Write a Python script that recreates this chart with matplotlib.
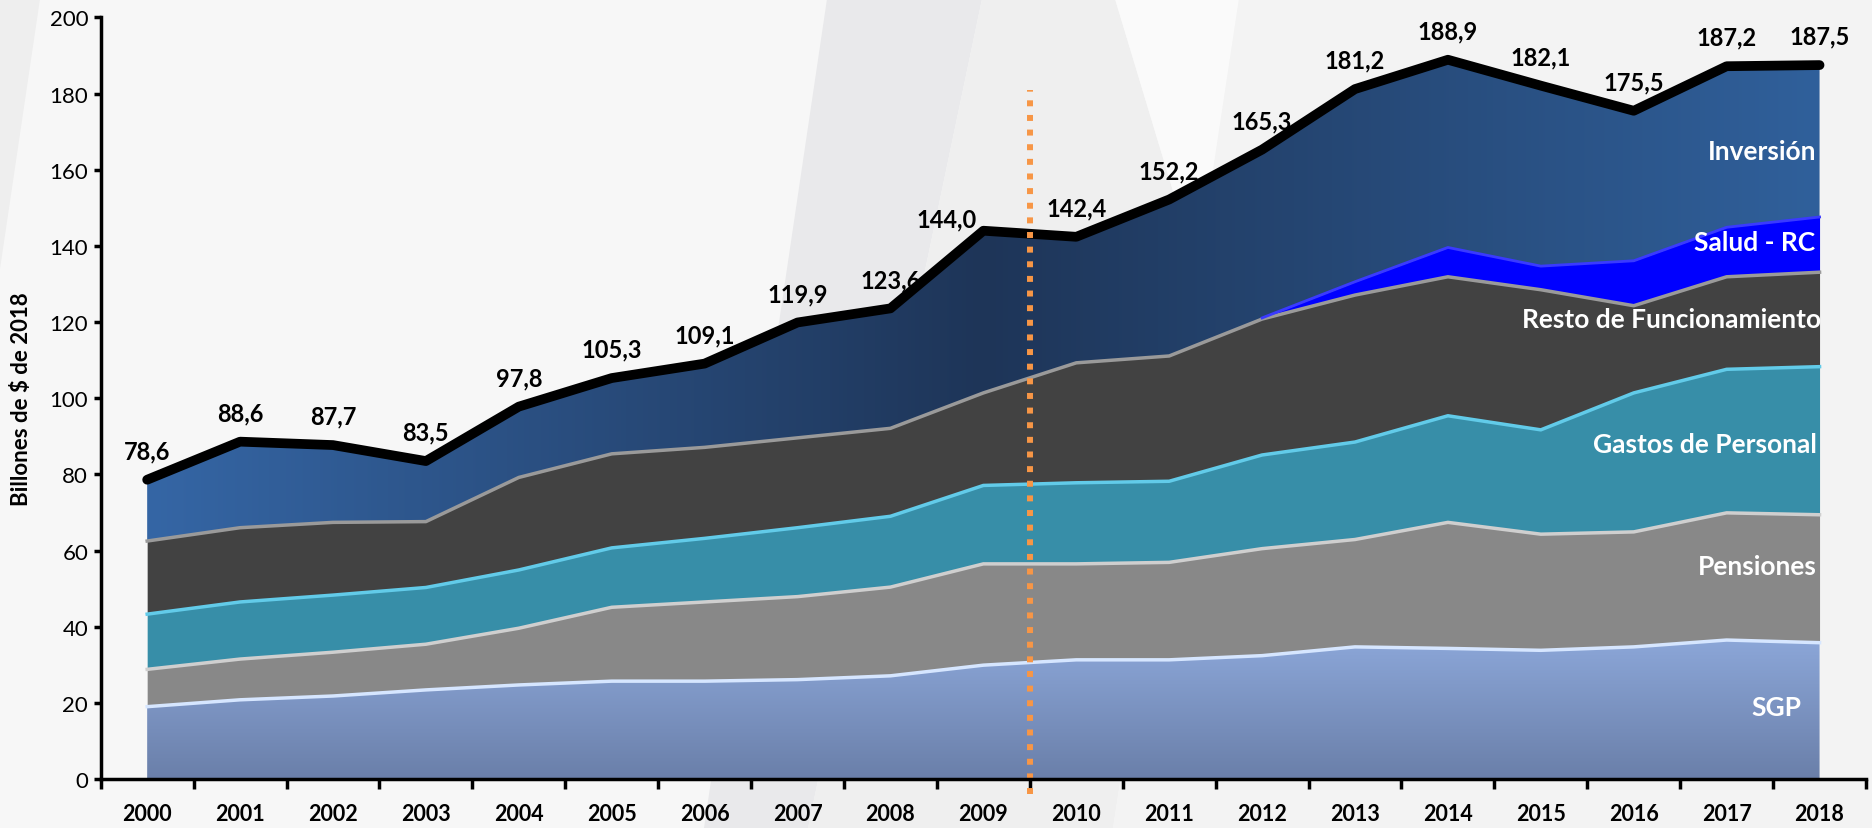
import numpy as np
import matplotlib
matplotlib.use("Agg")
import matplotlib.pyplot as plt
from matplotlib.colors import LinearSegmentedColormap
from matplotlib.patches import Polygon

plt.rcParams['font.family'] = ['Lato', 'DejaVu Sans']

years = [str(y) for y in range(2000, 2019)]
sgp = [19.0, 20.8, 21.8, 23.4, 24.7, 25.7, 25.7, 26.1, 27.1, 29.9, 31.3, 31.3, 32.4, 34.7, 34.3, 33.8, 34.7, 36.5, 35.8]
pensiones = [9.8, 10.7, 11.5, 12.0, 14.9, 19.4, 20.8, 21.8, 23.3, 26.6, 25.2, 25.6, 28.1, 28.2, 33.1, 30.5, 30.2, 33.4, 33.6]
gastos = [14.5, 15.0, 15.0, 14.9, 15.3, 15.6, 16.7, 18.1, 18.6, 20.6, 21.3, 21.3, 24.6, 25.6, 28.0, 27.4, 36.5, 37.7, 38.9]
resto = [19.2, 19.5, 19.1, 17.3, 24.3, 24.7, 23.9, 23.6, 23.1, 24.3, 31.5, 32.9, 35.7, 38.6, 36.5, 36.8, 22.9, 24.3, 24.8]
salud = [0, 0, 0, 0, 0, 0, 0, 0, 0, 0, 0, 0, 0.3, 3.5, 7.7, 6.2, 11.8, 13.0, 14.5]
totales = [78.6, 88.6, 87.7, 83.5, 97.8, 105.3, 109.1, 119.9, 123.6, 144.0, 142.4,
           152.2, 165.3, 181.2, 188.9, 182.1, 175.5, 187.2, 187.5]

x = np.arange(len(years))
c1 = np.array(sgp)
c2 = c1 + np.array(pensiones)
c3 = c2 + np.array(gastos)
c4 = c3 + np.array(resto)
c5 = c4 + np.array(salud)
tot = np.array(totales)  # inversión = total - resto de capas

fig = plt.figure(figsize=(18.72, 8.29), dpi=100)
fig.patch.set_facecolor('#f7f7f7')

# marca de agua de fondo (coordenadas en pixeles)
def fpoly(pts, color):
    pts = [(px / 1872, 1 - py / 829) for px, py in pts]
    fig.add_artist(Polygon(pts, closed=True, facecolor=color, edgecolor='none',
                           transform=fig.transFigure, zorder=-10))

fpoly([(0, 0), (40, 0), (0, 270)], '#eeeeee')
fpoly([(827, 0), (982, 0), (808, 829), (704, 829)], '#e9e9eb')
fpoly([(982, 0), (1115, 0), (1198, 275), (1113, 829), (808, 829)], '#efefef')
fpoly([(1115, 0), (1239, 0), (1198, 275)], '#fafafa')
fpoly([(1239, 0), (1872, 0), (1872, 829), (1113, 829)], '#f3f3f3')

ax = fig.add_axes([0.0538, 0.0591, 0.9430, 0.9186])
ax.set_facecolor('none')


def gradient_fill(lower, upper, img, extent, z):
    poly = ax.fill_between(x, lower, upper, facecolor='none', edgecolor='none', zorder=z)
    im = ax.imshow(img, extent=extent, aspect='auto', origin='lower',
                   interpolation='bicubic', zorder=z)
    im.set_clip_path(poly.get_paths()[0], transform=ax.transData)


# SGP: degradado vertical
cm_sgp = LinearSegmentedColormap.from_list('sgp', ['#6a7fa9', '#8da8da'])
img = cm_sgp(np.linspace(0, 1, 256))[:, None, :]
gradient_fill(0, c1, img, [0, 18, 0, 38], 1)

ax.fill_between(x, c1, c2, color='#888888', lw=0, zorder=1)
ax.fill_between(x, c2, c3, color='#378ea8', lw=0, zorder=1)
ax.fill_between(x, c3, c4, color='#424242', lw=0, zorder=1)
ax.fill_between(x, c4, c5, color='#0000ff', lw=0, zorder=1)

# Inversión: degradado horizontal
cm_inv = LinearSegmentedColormap.from_list('inv', [(0, '#3566a5'), (0.5, '#1e3558'), (1, '#30609b')])
img = cm_inv(np.linspace(0, 1, 256))[None, :, :]
gradient_fill(c5, tot, img, [0, 18, 0, 200], 1)

# bordes claros (bisel)
ax.plot(x, c1, color='#d6e6ff', lw=2.5, zorder=2)
ax.plot(x, c2, color='#cfcfcf', lw=2.5, zorder=2)
ax.plot(x, c3, color='#62cbe9', lw=2.5, zorder=2)
ax.plot(x, c4, color='#9a9a9a', lw=2.5, zorder=2)
ax.plot(x[12:], c5[12:], color='#3a3aff', lw=2, zorder=2)

# línea de total
ax.plot(x, tot, color='black', lw=7, solid_capstyle='round', solid_joinstyle='round', zorder=5)
for xi, v in zip(x, totales):
    dx, dy = (-0.4, 3.2) if xi == 9 else (0, 7.6)  # 2009 va corrida a la izquierda
    ax.text(xi + dx, v + dy, f"{v:.1f}".replace('.', ','), ha='center', va='center',
            fontsize=17, fontweight='bold', color='black', zorder=6)

# línea punteada 2009/2010
ax.plot([9.5, 9.5], [-4, 181], color='#f79646', lw=4.3, linestyle=(0, (1, 1.45)),
        dash_capstyle='butt', clip_on=False, zorder=7)

# etiquetas de capas
lab_kw = dict(ha='right', va='center', color='white', fontsize=19, fontweight='bold', zorder=6)
ax.text(17.97, 165, 'Inversión', **lab_kw)
ax.text(17.95, 141, 'Salud - RC', **lab_kw)
ax.text(18.02, 120.7, 'Resto de Funcionamiento', **lab_kw)
ax.text(17.97, 88, 'Gastos de Personal', **lab_kw)
ax.text(17.97, 56, 'Pensiones', **lab_kw)
ax.text(17.8, 19, 'SGP', **lab_kw)

ax.set_xlim(-0.5, 18.5)
ax.set_ylim(0, 200)
ax.set_yticks(range(0, 201, 20))
ax.set_xticks(x)
ax.set_xticklabels(years, fontsize=15.5, fontweight='bold')
ax.set_xticks(np.arange(-0.5, 19, 1), minor=True)
ax.tick_params(axis='x', which='major', length=0, pad=17)
ax.tick_params(axis='x', which='minor', length=7, width=2.5, color='black', direction='out')
ax.tick_params(axis='y', length=5, width=2.5, labelsize=16, pad=4, direction='out')

for s in ['top', 'right']:
    ax.spines[s].set_visible(False)
for s in ['left', 'bottom']:
    ax.spines[s].set_linewidth(2.5)
    ax.spines[s].set_zorder(8)

ax.set_ylabel('Billones de $ de 2018', fontsize=16, fontweight='bold')
ax.yaxis.set_label_coords(-0.039, 0.5)

fig.savefig('out.png', dpi=100, facecolor=fig.get_facecolor())
